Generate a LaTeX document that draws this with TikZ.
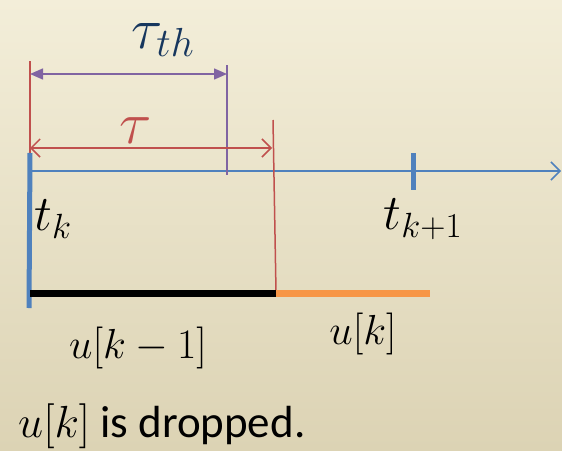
\RequirePackage{fix-cm}
\documentclass[tikz,border=0pt]{standalone}
\usepackage{amsmath}
\usepackage{fontspec}
\usepackage{tikz}
\usetikzlibrary{arrows.meta}
\newfontfamily\carlito{Carlito}

\definecolor{axisblue}{HTML}{4F81BD}
\definecolor{delayred}{HTML}{C0504D}
\definecolor{threshpurple}{HTML}{8064A2}
\definecolor{inputorange}{HTML}{F79646}
\definecolor{labelnavy}{HTML}{17375E}
\definecolor{bgtop}{HTML}{F3EED9}
\definecolor{bgbottom}{HTML}{DCD3B4}

\begin{document}
\begin{tikzpicture}[
        x=1pt, y=-1pt,
        axis line/.style={axisblue, line width=1.5pt, -{Straight Barb[length=9pt, width=18pt]}},
        tick mark/.style={axisblue, line width=5pt},
        red mark/.style={delayred, line width=1.5pt},
        purple mark/.style={threshpurple, line width=2pt},
        delay arrow/.style={delayred, line width=1.5pt, {Straight Barb[length=9pt, width=18pt]}-{Straight Barb[length=9pt, width=18pt]}},
        thresh arrow/.style={threshpurple, line width=1.5pt, {Triangle[length=13pt, width=11pt]}-{Triangle[length=13pt, width=11pt]}},
        input seg/.style={line width=7pt},
        mathlabel/.style={inner sep=0pt}
    ]
        % background
        \shade[top color=bgtop, bottom color=bgbottom] (0,0) rectangle (562,450);
        \useasboundingbox (0,0) rectangle (562,450);

        % time axis
        \coordinate (origin) at (30,171);
        \coordinate (axis end) at (561,171);
        \draw[axis line] (origin) -- (axis end);

        % markers
        \coordinate (tk top) at (30,153);
        \coordinate (tk bot) at (29,308);
        \coordinate (tk1 top) at (413,153);
        \coordinate (tk1 bot) at (413,190);
        \coordinate (red top) at (30,61);
        \coordinate (red bot) at (30,172);
        \coordinate (th top) at (227,65);
        \coordinate (th bot) at (227,175);
        \coordinate (drop top) at (273,120);
        \coordinate (drop bot) at (276,292);
        \draw[red mark] (red top) -- (red bot);
        \draw[tick mark] (tk top) -- (tk bot);
        \draw[tick mark] (tk1 top) -- (tk1 bot);
        \draw[purple mark] (th top) -- (th bot);
        \draw[red mark] (drop top) -- (drop bot);

        % threshold and delay
        \coordinate (th left) at (30,74);
        \coordinate (th right) at (227,74);
        \draw[thresh arrow] (th left) -- (th right);
        \coordinate (tau left) at (30,148);
        \coordinate (tau right) at (272,148);
        \draw[delay arrow] (tau left) -- (tau right);
        \node[mathlabel, labelnavy, font=\fontsize{58}{60}\selectfont] (tauth) at (163,40) {$\tau_{th}$};
        \node[mathlabel, delayred, font=\fontsize{60}{64}\selectfont] (tau) at (136,131) {$\tau$};

        % sample times
        \node[mathlabel, font=\fontsize{50}{54}\selectfont] (tk) at (53,219) {$t_k$};
        \node[mathlabel, font=\fontsize{50}{54}\selectfont] (tk1) at (423,219) {$t_{k+1}$};

        % inputs
        \coordinate (old start) at (30,293);
        \coordinate (switch) at (276,293);
        \coordinate (new end) at (430,293);
        \draw[input seg, black] (old start) -- (switch);
        \draw[input seg, inputorange] (switch) -- (new end);
        \node[mathlabel, font=\fontsize{42}{44}\selectfont] (uold) at (138,348) {$u[k-1]$};
        \node[mathlabel, font=\fontsize{42}{44}\selectfont] (unew) at (363,334) {$u[k]$};

        % caption
        \node[mathlabel, anchor=base west, font=\fontsize{45}{48}\selectfont\carlito] (caption) at (18,437) {$u[k]$ is dropped.};
    \end{tikzpicture}
\end{document}
